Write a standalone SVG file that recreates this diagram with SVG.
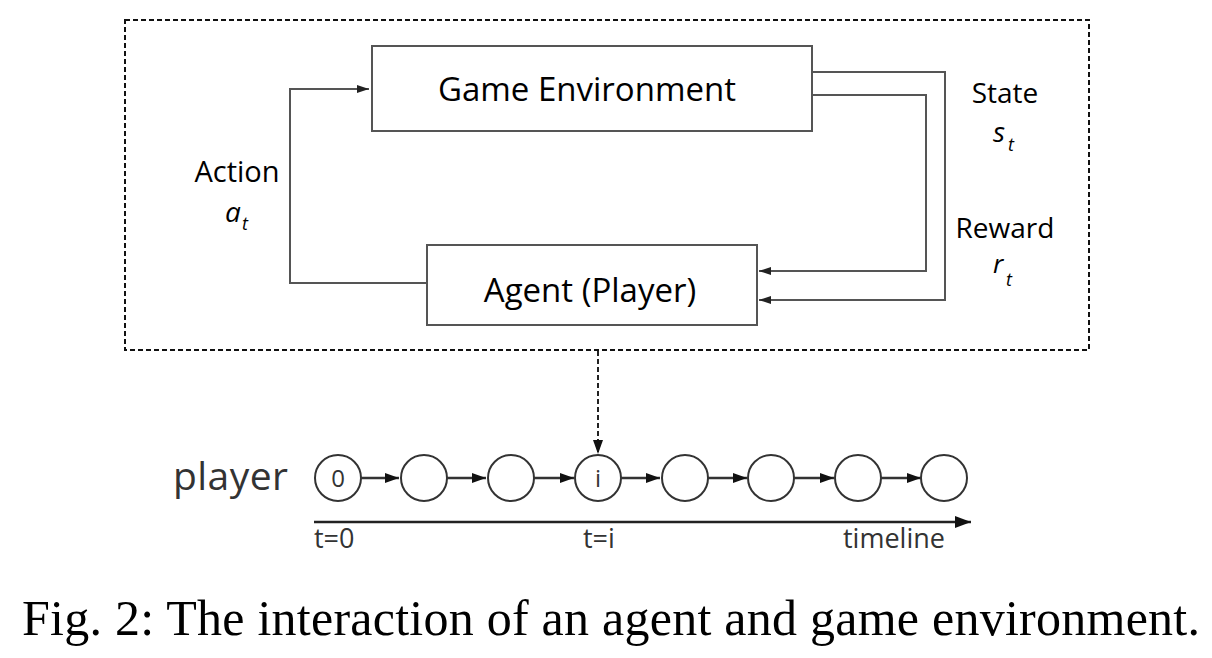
<svg xmlns="http://www.w3.org/2000/svg" width="1212" height="658" viewBox="0 0 1212 658">
  <style>
    .box { fill: #fff; stroke: #555; stroke-width: 2; }
    .conn { fill: none; stroke: #555; stroke-width: 2; }
    .lbl { font-family: "Open Sans", "Noto Sans", sans-serif; fill: #000; }
    .it { font-style: italic; }
    .tl { font-family: "Open Sans", "Noto Sans", sans-serif; fill: #333; }
    .circ { fill: #fff; stroke: #333; stroke-width: 2; }
    .step { fill: none; stroke: #333; stroke-width: 2.5; }
    .cap { font-family: "Liberation Serif", "Times New Roman", serif; fill: #000; }
  </style>
  <defs>
    <marker id="ah" viewBox="0 0 12 8" refX="12" refY="4" markerWidth="12" markerHeight="8" markerUnits="userSpaceOnUse" orient="auto">
      <path d="M0,0 L12,4 L0,8 Z" fill="#222"/>
    </marker>
    <marker id="ahs" viewBox="0 0 14 10" refX="14" refY="5" markerWidth="14" markerHeight="10" markerUnits="userSpaceOnUse" orient="auto">
      <path d="M0,0 L14,5 L0,10 Z" fill="#111"/>
    </marker>
    <marker id="ahl" viewBox="0 0 16 12" refX="16" refY="6" markerWidth="16" markerHeight="12" markerUnits="userSpaceOnUse" orient="auto">
      <path d="M0,0 L16,6 L0,12 Z" fill="#111"/>
    </marker>
  </defs>

  <g id="frame">
    <rect x="125" y="20" width="964" height="330" fill="none" stroke="#111" stroke-width="2" stroke-dasharray="5 3"/>
  </g>

  <g id="connectors">
    <polyline class="conn" points="427,283 290,283 290,89 369,89" marker-end="url(#ah)"/>
    <polyline class="conn" points="812,72 945,72 945,300 759,300" marker-end="url(#ah)"/>
    <polyline class="conn" points="812,95 926,95 926,271 759,271" marker-end="url(#ah)"/>
    <line x1="598" y1="351" x2="598" y2="454" stroke="#222" stroke-width="2" stroke-dasharray="5 3" marker-end="url(#ahs)"/>
    <line class="step" x1="361" y1="478" x2="399" y2="478" marker-end="url(#ahs)"/>
    <line class="step" x1="447" y1="478" x2="486" y2="478" marker-end="url(#ahs)"/>
    <line class="step" x1="534" y1="478" x2="574" y2="478" marker-end="url(#ahs)"/>
    <line class="step" x1="621" y1="478" x2="660" y2="478" marker-end="url(#ahs)"/>
    <line class="step" x1="708" y1="478" x2="747" y2="478" marker-end="url(#ahs)"/>
    <line class="step" x1="794" y1="478" x2="834" y2="478" marker-end="url(#ahs)"/>
    <line class="step" x1="881" y1="478" x2="921" y2="478" marker-end="url(#ahs)"/>
    <line x1="314" y1="522" x2="971" y2="522" stroke="#222" stroke-width="2.5" marker-end="url(#ahl)"/>
  </g>

  <g id="game-environment">
    <rect class="box" x="372" y="46" width="440" height="85"/>
    <text class="lbl" x="587" y="101" font-size="33" text-anchor="middle">Game Environment</text>
  </g>

  <g id="agent">
    <rect class="box" x="427" y="245" width="330" height="80"/>
    <text class="lbl" x="590" y="302" font-size="33" text-anchor="middle">Agent (Player)</text>
  </g>

  <g id="label-action">
    <text class="lbl" x="237" y="182" font-size="29" text-anchor="middle">Action</text>
    <text class="lbl it" x="225" y="222" font-size="28">a</text>
    <text class="lbl it" x="242" y="230" font-size="18">t</text>
  </g>

  <g id="label-state">
    <text class="lbl" x="1005" y="103" font-size="28" text-anchor="middle">State</text>
    <text class="lbl it" x="993" y="142" font-size="28">s</text>
    <text class="lbl it" x="1008" y="151" font-size="18">t</text>
  </g>

  <g id="label-reward">
    <text class="lbl" x="1005" y="238" font-size="28" text-anchor="middle">Reward</text>
    <text class="lbl it" x="993" y="273" font-size="26">r</text>
    <text class="lbl it" x="1006" y="286" font-size="18">t</text>
  </g>

  <g id="timeline">
    <text class="tl" x="173" y="490" font-size="39" textLength="115">player</text>
    <text class="tl" x="314" y="548" font-size="27">t=0</text>
    <text class="tl" x="583" y="548" font-size="27">t=i</text>
    <text class="tl" x="843" y="548" font-size="27">timeline</text>
  </g>

  <g id="node-0">
    <circle class="circ" cx="338" cy="478" r="23"/>
    <text class="tl" x="338" y="487" font-size="24" text-anchor="middle">0</text>
  </g>
  <g id="node-1"><circle class="circ" cx="424" cy="478" r="23"/></g>
  <g id="node-2"><circle class="circ" cx="511" cy="478" r="23"/></g>
  <g id="node-i">
    <circle class="circ" cx="598" cy="478" r="23"/>
    <text class="tl" x="598" y="487" font-size="24" text-anchor="middle">i</text>
  </g>
  <g id="node-4"><circle class="circ" cx="685" cy="478" r="23"/></g>
  <g id="node-5"><circle class="circ" cx="771" cy="478" r="23"/></g>
  <g id="node-6"><circle class="circ" cx="858" cy="478" r="23"/></g>
  <g id="node-7"><circle class="circ" cx="944" cy="478" r="23"/></g>

  <g id="caption">
    <text class="cap" x="22" y="635" font-size="50" textLength="1178">Fig. 2: The interaction of an agent and game environment.</text>
  </g>
</svg>
